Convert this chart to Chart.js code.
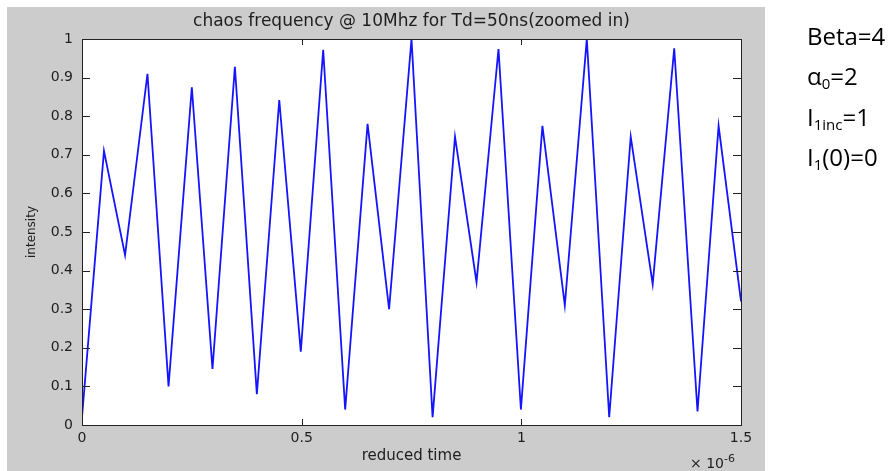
<!DOCTYPE html>
<html>
<head>
<meta charset="utf-8">
<script src="https://cdn.jsdelivr.net/npm/chart.js@4.4.1/dist/chart.umd.min.js"></script>
<style>
  body { margin: 0; background: #fff; }
  #wrap { position: relative; width: 892px; height: 471px; }
  #chart { position: absolute; left: 0; top: 0; }
  .note { position: absolute; left: 807px; font-family: "Open Sans", "Liberation Sans", sans-serif; font-size: 24px; color: #000; line-height: 1; }
  .note sub { font-size: 15px; vertical-align: -4px; }
  #scale { position: absolute; left: 690px; top: 452px; font-family: "DejaVu Sans", sans-serif; font-size: 14px; color: #222; }
  #scale sup { font-size: 11px; vertical-align: 6px; }
</style>
</head>
<body>
<div id="wrap">
  <canvas id="chart" width="892" height="471"></canvas>
  <div id="scale">× 10<sup>-6</sup></div>
  <div class="note" style="top:24px">Beta=4</div>
  <div class="note" style="top:64px">α<sub>0</sub>=2</div>
  <div class="note" style="top:105px">I<sub>1inc</sub>=1</div>
  <div class="note" style="top:145px">I<sub>1</sub>(0)=0</div>
</div>
<script>
// Data (time in units of 1e-6)
const timeUs = [0, 0.05, 0.098, 0.149, 0.197, 0.25, 0.297, 0.348, 0.398, 0.449, 0.498,
  0.549, 0.599, 0.65, 0.699, 0.75, 0.798, 0.849, 0.898, 0.948, 0.999,
  1.048, 1.099, 1.149, 1.2, 1.249, 1.299, 1.348, 1.401, 1.449, 1.5];
const intensity = [0.02, 0.71, 0.44, 0.91, 0.10, 0.875, 0.145, 0.928, 0.08, 0.842, 0.19,
  0.972, 0.04, 0.78, 0.30, 1.0, 0.02, 0.747, 0.37, 0.974, 0.04,
  0.775, 0.31, 1.0, 0.02, 0.747, 0.365, 0.976, 0.035, 0.775, 0.32];

const xTicks = [0, 0.5, 1, 1.5];
const xTickLabels = ["0", "0.5", "1", "1.5"];
const yTicks = [0, 0.1, 0.2, 0.3, 0.4, 0.5, 0.6, 0.7, 0.8, 0.9, 1];
const yTickLabels = ["0", "0.1", "0.2", "0.3", "0.4", "0.5", "0.6", "0.7", "0.8", "0.9", "1"];

const titleText = "chaos frequency @ 10Mhz for Td=50ns(zoomed in)";
const xTitle = "reduced time";
const yTitle = "intensity";

const textColor = "#1e1e1e";
const fontFamily = "'DejaVu Sans', sans-serif";

// Gray figure background + white axes background
const figureBg = {
  id: "figureBg",
  beforeDraw(chart) {
    const { ctx, chartArea } = chart;
    ctx.save();
    ctx.fillStyle = "rgb(204,204,204)";
    ctx.fillRect(7, 7, 758, 464);
    ctx.fillStyle = "#fff";
    ctx.fillRect(chartArea.left, chartArea.top, chartArea.right - chartArea.left, chartArea.bottom - chartArea.top);
    ctx.restore();
  }
};

// Title centred over the axes, like MATLAB does
const axesTitle = {
  id: "axesTitle",
  afterDraw(chart) {
    const { ctx, chartArea: a } = chart;
    ctx.save();
    ctx.fillStyle = textColor;
    ctx.font = "17px " + fontFamily;
    ctx.textAlign = "center";
    ctx.textBaseline = "middle";
    ctx.fillText(titleText, (a.left + a.right) / 2, 22);
    ctx.restore();
  }
};

// MATLAB style box with inward ticks on all four sides
const axesBox = {
  id: "axesBox",
  afterDatasetsDraw(chart) {
    const { ctx, chartArea: a, scales } = chart;
    ctx.save();
    ctx.strokeStyle = "#222";
    ctx.lineWidth = 1;
    ctx.strokeRect(a.left + 0.5, a.top + 0.5, a.right - a.left, a.bottom - a.top);
    ctx.beginPath();
    yTicks.forEach(v => {
      const y = Math.round(scales.y.getPixelForValue(v)) + 0.5;
      ctx.moveTo(a.left, y); ctx.lineTo(a.left + 8, y);
      ctx.moveTo(a.right, y); ctx.lineTo(a.right - 8, y);
    });
    xTicks.forEach(v => {
      const x = Math.round(scales.x.getPixelForValue(v)) + 0.5;
      ctx.moveTo(x, a.bottom); ctx.lineTo(x, a.bottom - 6);
      ctx.moveTo(x, a.top); ctx.lineTo(x, a.top + 6);
    });
    ctx.stroke();
    ctx.restore();
  }
};

new Chart(document.getElementById("chart").getContext("2d"), {
  type: "line",
  data: {
    datasets: [{
      data: timeUs.map((t, i) => ({ x: t, y: intensity[i] })),
      borderColor: "rgb(20,20,255)",
      borderWidth: 1.8,
      pointRadius: 0,
      tension: 0,
      fill: false
    }]
  },
  options: {
    responsive: false,
    animation: false,
    layout: { padding: { left: 7, top: 39, right: 151, bottom: 0 } },
    plugins: {
      legend: { display: false },
      tooltip: { enabled: false },
      title: { display: false }
    },
    scales: {
      x: {
        type: "linear",
        min: 0,
        max: 1.5,
        grid: { display: false, drawTicks: false },
        border: { display: false },
        afterBuildTicks: s => { s.ticks = xTicks.map(v => ({ value: v })); },
        afterFit: s => { s.height = 46; },
        ticks: {
          color: textColor,
          padding: 5,
          maxRotation: 0,
          font: { family: fontFamily, size: 14 },
          callback: (v, i) => xTickLabels[i]
        },
        title: {
          display: true,
          text: xTitle,
          color: textColor,
          font: { family: fontFamily, size: 15 },
          padding: { top: 0, bottom: 6 }
        }
      },
      y: {
        min: 0,
        max: 1,
        grid: { display: false, drawTicks: false },
        border: { display: false },
        afterBuildTicks: s => { s.ticks = yTicks.map(v => ({ value: v })); },
        afterFit: s => { s.width = 75; },
        ticks: {
          color: textColor,
          padding: 9,
          font: { family: fontFamily, size: 14 },
          callback: (v, i) => yTickLabels[i]
        },
        title: {
          display: true,
          text: yTitle,
          color: textColor,
          font: { family: fontFamily, size: 12 },
          padding: { top: 18, bottom: 0 }
        }
      }
    }
  },
  plugins: [figureBg, axesBox, axesTitle]
});
</script>
</body>
</html>
